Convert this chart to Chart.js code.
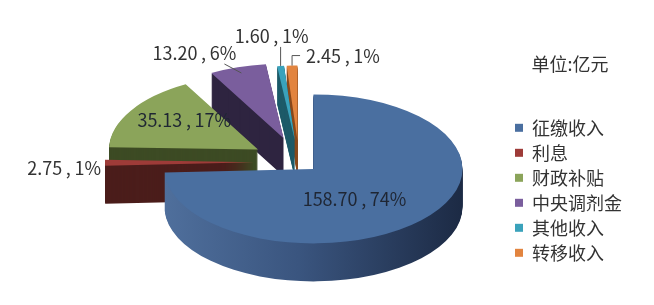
<!DOCTYPE html>
<html>
<head>
<meta charset="utf-8">
<script src="https://cdn.jsdelivr.net/npm/chart.js@4"></script>
<style>
  body { margin: 0; background: #fff; }
</style>
</head>
<body>
<canvas id="grafico" width="654" height="305"></canvas>
<script>
const categorias = ['征缴收入', '利息', '财政补贴', '中央调剂金', '其他收入', '转移收入'];
const valores = [158.70, 2.75, 35.13, 13.20, 1.60, 2.45];
const porcentajes = ['74%', '1%', '17%', '6%', '1%', '1%'];

const coloresCara = ['#4a6fa0', '#9e3b38', '#8ba45a', '#7a5e9d', '#3aa2bb', '#e2843f'];
const coloresLado = [null, '#4b1d1b', '#3d4b24', '#2e2440', '#1e5b69', '#8a4a1e'];
const separacion = [20, 45, 48, 50, 44, 44];

const APLASTE = 0.5;
const PROFUNDIDAD = 38;
const RADIO = 149;
const FUENTE = '"Noto Sans CJK SC", "Noto Sans", sans-serif';

// posicion de cada etiqueta respecto al borde de su porcion
const etiquetas = [
  { dentro: true, r: 0.38, texto: [0, 11] },
  { r: 1, texto: [-4, 5], align: 'right' },
  { dentro: true, r: 0.58, texto: [0, -7] },
  { r: 0.92, linea: [[-17, -9]], texto: [-47, -20], align: 'center' },
  { r: 1, linea: [[0, -19]], texto: [-9, -30], align: 'center' },
  { r: 1, linea: [[0, -10], [8, -10]], texto: [14, -9], align: 'left' }
];

const punto = (arco, i, rho) => {
  const medio = (arco.startAngle + arco.endAngle) / 2;
  const d = separacion[i] + rho;
  return { x: arco.x + Math.cos(medio) * d, y: arco.y + Math.sin(medio) * d * APLASTE };
};

const tarta3d = {
  id: 'tarta3d',
  beforeDatasetsDraw(chart) {
    const ctx = chart.ctx;
    const arcos = chart.getDatasetMeta(0).data;
    const cx = arcos[0].x;
    const cy = arcos[0].y;

    const gradiente = ctx.createLinearGradient(cx - RADIO, 0, cx + RADIO, 0);
    gradiente.addColorStop(0, '#4f6f9c');
    gradiente.addColorStop(0.45, '#3a557f');
    gradiente.addColorStop(1, '#1c2a44');
    const lados = coloresLado.map(c => c || gradiente);

    const dibujar = (arco, i, color, bajada) => {
      const medio = (arco.startAngle + arco.endAngle) / 2;
      ctx.save();
      ctx.translate(cx, cy + bajada);
      ctx.scale(1, APLASTE);
      ctx.translate(-cx, -cy);
      ctx.translate(Math.cos(medio) * separacion[i], Math.sin(medio) * separacion[i]);
      const copia = Object.create(arco);
      copia.options = Object.assign({}, arco.options, { backgroundColor: color, borderWidth: 0, offset: 0 });
      copia.draw(ctx);
      ctx.restore();
    };

    // lados: capas apiladas hacia abajo
    for (let d = PROFUNDIDAD; d > 0; d--) {
      arcos.forEach((arco, i) => dibujar(arco, i, lados[i], d));
    }
    // caras superiores
    arcos.forEach((arco, i) => dibujar(arco, i, coloresCara[i], 0));
    return false;
  },
  afterDraw(chart) {
    const ctx = chart.ctx;
    const arcos = chart.getDatasetMeta(0).data;
    ctx.save();
    ctx.font = '18px ' + FUENTE;
    ctx.textBaseline = 'middle';
    arcos.forEach((arco, i) => {
      const conf = etiquetas[i];
      const texto = valores[i].toFixed(2) + '\u2009,\u2009' + porcentajes[i];
      const p = punto(arco, i, RADIO * conf.r);
      if (conf.dentro) {
        ctx.textAlign = 'center';
        ctx.fillStyle = '#1f2633';
        ctx.fillText(texto, p.x + conf.texto[0], p.y + conf.texto[1]);
        return;
      }
      if (conf.linea) {
        ctx.beginPath();
        ctx.moveTo(p.x, p.y);
        conf.linea.forEach(([dx, dy]) => ctx.lineTo(p.x + dx, p.y + dy));
        ctx.strokeStyle = '#555';
        ctx.lineWidth = 1;
        ctx.stroke();
      }
      ctx.textAlign = conf.align;
      ctx.fillStyle = '#333';
      ctx.fillText(texto, p.x + conf.texto[0], p.y + conf.texto[1]);
    });
    ctx.restore();
  }
};

const ctx = document.getElementById('grafico').getContext('2d');
new Chart(ctx, {
  type: 'pie',
  data: {
    labels: categorias,
    datasets: [{
      data: valores,
      backgroundColor: coloresCara,
      borderWidth: 0,
      radius: RADIO,
      clip: false
    }]
  },
  options: {
    responsive: false,
    animation: false,
    layout: { padding: { left: 90, right: 22, top: 19, bottom: 0 } },
    plugins: {
      tooltip: { enabled: false },
      legend: {
        position: 'right',
        title: {
          display: true,
          text: '单位:亿元',
          color: '#333',
          font: { family: FUENTE, size: 18 },
          padding: { top: 0, bottom: 35 }
        },
        labels: {
          boxWidth: 8,
          boxHeight: 8,
          padding: 7,
          color: '#333',
          font: { family: FUENTE, size: 18 }
        }
      }
    }
  },
  plugins: [tarta3d]
});
</script>
</body>
</html>
